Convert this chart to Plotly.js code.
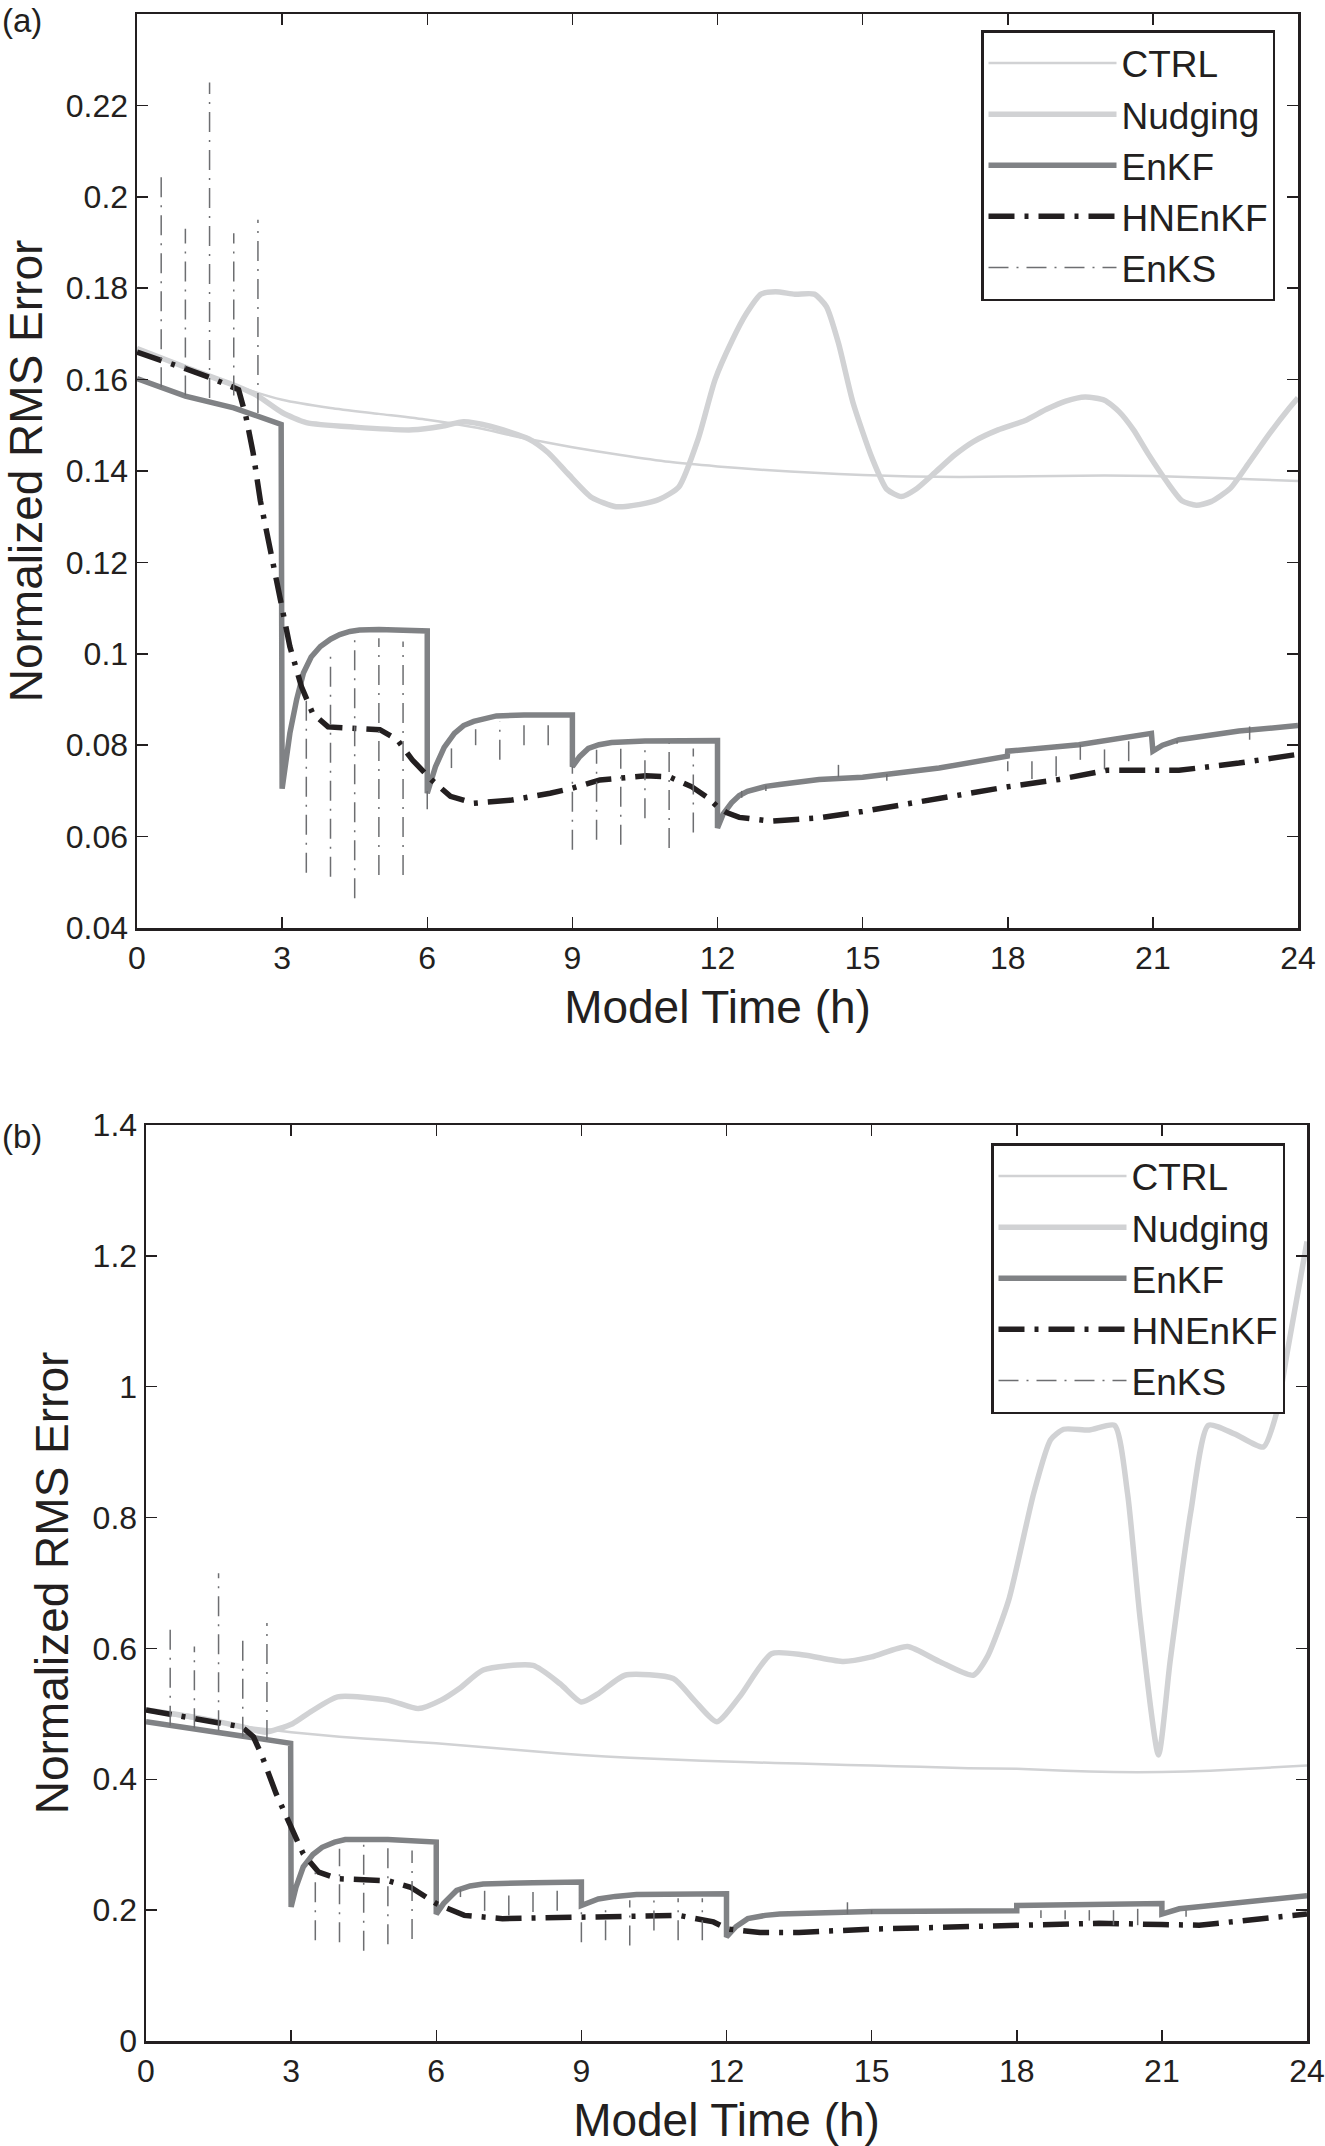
<!DOCTYPE html>
<html>
<head>
<meta charset="utf-8">
<script src="https://cdn.plot.ly/plotly-3.0.1.min.js"></script>
<style>
  html, body { margin: 0; padding: 0; background: #fff; }
  #chart { width: 1325px; height: 2146px; }
</style>
</head>
<body>
<div id="chart"></div>
<script>
// Normalized RMS error vs model time, panels (a) and (b)
const xTicks = [0, 3, 6, 9, 12, 15, 18, 21, 24];
const yTicksA = [0.04, 0.06, 0.08, 0.1, 0.12, 0.14, 0.16, 0.18, 0.2, 0.22];
const yLabelsA = ['0.04', '0.06', '0.08', '0.1', '0.12', '0.14', '0.16', '0.18', '0.2', '0.22'];
const yTicksB = [0, 0.2, 0.4, 0.6, 0.8, 1, 1.2, 1.4];
const yLabelsB = ['0', '0.2', '0.4', '0.6', '0.8', '1', '1.2', '1.4'];

// ---- panel (a) ----
const ctrlTimeA = [0, 1, 2, 3, 4, 5, 6, 7, 8, 9, 10, 11, 12, 13, 14, 15, 16, 17, 18, 19, 20, 21, 22, 23, 24];
const ctrlA = [0.1668, 0.1627, 0.1588, 0.1556, 0.1538, 0.1525, 0.1512, 0.1495, 0.1472, 0.1452, 0.1435, 0.1420, 0.1410,
    0.1402, 0.1396, 0.1391, 0.1388, 0.1387, 0.1388, 0.1389, 0.1390, 0.1389, 0.1386, 0.1382, 0.1378];

const nudgingTimeA = [0, 1, 2, 2.5, 3, 3.5, 4.5, 5.7, 6.3, 6.75, 7.3, 8.1, 8.5, 8.9, 9.4, 9.9, 10.4, 10.8, 11.2, 11.6,
    11.95, 12.3, 12.6, 12.9, 13.2, 13.6, 14, 14.25, 14.5, 14.8, 15.2, 15.5, 15.8, 16.1, 16.5, 16.9, 17.3, 17.8, 18.35,
    18.8, 19.2, 19.6, 20, 20.3, 20.6, 20.9, 21.3, 21.6, 21.9, 22.2, 22.6, 23, 23.4, 23.8, 24];
const nudgingA = [0.1668, 0.1627, 0.1588, 0.1564, 0.1528, 0.1506, 0.1496, 0.1490, 0.1498, 0.1508, 0.1498, 0.1470, 0.1440,
    0.1395, 0.1342, 0.1322, 0.1327, 0.1338, 0.1365, 0.1470, 0.1600, 0.1685, 0.1745, 0.1787, 0.1792, 0.1787, 0.1787,
    0.1760, 0.1680, 0.1550, 0.1427, 0.1360, 0.1344, 0.1360, 0.1397, 0.1435, 0.1465, 0.1490, 0.1510, 0.1535, 0.1553,
    0.1562, 0.1555, 0.1530, 0.1490, 0.1438, 0.1375, 0.1335, 0.1325, 0.1333, 0.1362, 0.1420, 0.1480, 0.1535, 0.1560];

const enkfTimeA = [0, 1, 2, 2.98, 3, 3.08, 3.16, 3.3, 3.44, 3.6, 3.79, 4, 4.19, 4.4, 4.6, 5, 6, 6, 6.17, 6.35, 6.56,
    6.75, 6.96, 7.43, 8, 9, 9, 9.15, 9.33, 9.55, 9.81, 10.5, 12, 12, 12.12, 12.29, 12.45, 12.62, 13, 13.28, 14.1, 15,
    16.58, 17.99, 18, 19.47, 20.97, 21, 21.2, 21.54, 22.78, 24];
const enkfA = [0.1602, 0.1564, 0.1538, 0.1502, 0.0705, 0.0770, 0.0826, 0.0900, 0.0958, 0.0993, 0.1016, 0.1032, 0.1042,
    0.1049, 0.1052, 0.1053, 0.1050, 0.0695, 0.0753, 0.0795, 0.0826, 0.0843, 0.0852, 0.0864, 0.0866, 0.0866, 0.0753,
    0.0775, 0.0793, 0.0801, 0.0806, 0.0809, 0.0810, 0.0619, 0.0650, 0.0674, 0.0690, 0.0699, 0.0710, 0.0714, 0.0725,
    0.0730, 0.0750, 0.0776, 0.0787, 0.0801, 0.0826, 0.0787, 0.0800, 0.0812, 0.0831, 0.0843];

const hnenkfTimeA = [0, 0.5, 1, 1.5, 2, 2.1, 2.25, 2.4, 2.55, 2.7, 2.92, 3.16, 3.4, 3.63, 3.95, 4.58, 5.02, 5.38, 5.69,
    6.09, 6.48, 6.96, 7.75, 8.54, 9, 9.57, 10.52, 11, 11.47, 11.8, 12, 12.2, 12.45, 13.1, 14.1, 15, 16.58, 18, 19.06,
    20.05, 21.54, 22.78, 24];
const hnenkfA = [0.1660, 0.1643, 0.1624, 0.1605, 0.1585, 0.1578, 0.1520, 0.1440, 0.1335, 0.1260, 0.1140, 0.1016,
    0.0928, 0.0870, 0.0840, 0.0837, 0.0834, 0.0812, 0.0768, 0.0724, 0.0688, 0.0673, 0.0680, 0.0695, 0.0706, 0.0724,
    0.0733, 0.0731, 0.0709, 0.0685, 0.0665, 0.0652, 0.0642, 0.0634, 0.0641, 0.0655, 0.0685, 0.0709, 0.0725, 0.0745,
    0.0745, 0.0761, 0.0780];

// EnKS: one short vertical stroke per smoother window
const enksTimeA = [0.5, 1, 1.5, 2, 2.5, 3.5, 4, 4.5, 5, 5.5, 6, 6.5, 7, 7.5, 8, 8.5, 9, 9.5, 10, 10.5, 11, 11.5,
    12.5, 13, 14.5, 15.5, 18, 18.5, 19, 19.5, 20, 20.5, 21.5, 23];
const enksLowA = [0.1583, 0.1565, 0.1560, 0.1565, 0.1527, 0.0521, 0.0512, 0.0465, 0.0516, 0.0516, 0.0660, 0.0750,
    0.0800, 0.0768, 0.0800, 0.0800, 0.0571, 0.0593, 0.0582, 0.0640, 0.0575, 0.0609, 0.0685, 0.0700, 0.0730, 0.0722,
    0.0743, 0.0726, 0.0732, 0.0768, 0.0747, 0.0765, 0.0803, 0.0812];
const enksHighA = [0.205, 0.193, 0.225, 0.192, 0.195, 0.0899, 0.1001, 0.1040, 0.1034, 0.1027, 0.0700, 0.0793,
    0.0835, 0.0852, 0.0860, 0.0860, 0.0753, 0.0790, 0.0797, 0.0800, 0.0804, 0.0793, 0.0700, 0.0712, 0.0757, 0.0737,
    0.0765, 0.0765, 0.0776, 0.0801, 0.0805, 0.0816, 0.0810, 0.0841];

// ---- panel (b) ----
const ctrlTimeB = [0, 1, 2, 3, 4, 5, 6, 7, 8, 9, 10, 11, 12, 13, 14, 15, 16, 17, 18, 19, 20, 21, 22, 23, 24];
const ctrlB = [0.505, 0.492, 0.481, 0.472, 0.465, 0.460, 0.455, 0.449, 0.443, 0.437, 0.433, 0.430, 0.427, 0.425,
    0.423, 0.421, 0.419, 0.417, 0.416, 0.413, 0.411, 0.411, 0.413, 0.417, 0.421];

const nudgingTimeB = [0, 1, 2, 2.46, 3.03, 3.4, 3.96, 5, 5.63, 6.1, 6.5, 6.97, 8, 8.56, 9, 9.35, 9.9, 10.9, 11.33, 11.8,
    12.27, 12.93, 13.6, 14.42, 15, 15.74, 16.4, 17.1, 17.39, 17.83, 18.35, 18.7, 18.97, 19.5, 20.02, 20.29, 20.55,
    20.93, 21.17, 21.6, 21.96, 22.5, 23.1, 23.36, 23.6, 24];
const nudgingB = [0.506, 0.495, 0.480, 0.472, 0.485, 0.503, 0.526, 0.521, 0.508, 0.521, 0.540, 0.567, 0.574, 0.546,
    0.518, 0.531, 0.559, 0.554, 0.521, 0.488, 0.526, 0.592, 0.590, 0.580, 0.587, 0.603, 0.580, 0.559, 0.587, 0.673,
    0.837, 0.919, 0.935, 0.934, 0.941, 0.837, 0.646, 0.437, 0.580, 0.810, 0.941, 0.928, 0.908, 0.957, 1.056, 1.222];

const enkfTimeB = [0, 1.43, 2.99, 3, 3.1, 3.25, 3.45, 3.64, 3.9, 4.12, 5, 6, 6, 6.15, 6.42, 6.7, 6.97, 8, 9, 9, 9.15,
    9.35, 9.7, 10.14, 12, 12, 12.2, 12.44, 12.8, 13.1, 15, 18, 18, 21, 21, 21.36, 24];
const enkfB = [0.488, 0.472, 0.455, 0.205, 0.235, 0.266, 0.285, 0.296, 0.304, 0.308, 0.308, 0.304, 0.194, 0.210,
    0.230, 0.237, 0.240, 0.242, 0.243, 0.207, 0.212, 0.217, 0.221, 0.224, 0.225, 0.159, 0.175, 0.187, 0.192, 0.194,
    0.198, 0.199, 0.207, 0.210, 0.194, 0.202, 0.222];

const hnenkfTimeB = [0, 1.43, 1.98, 2.22, 2.38, 2.69, 3.01, 3.25, 3.57, 3.96, 5, 5.47, 6, 6.58, 7.37, 9, 10.14, 11.01,
    11.73, 12.04, 12.69, 13.5, 15, 18, 19.7, 21, 21.77, 24];
const hnenkfB = [0.506, 0.488, 0.480, 0.465, 0.439, 0.378, 0.327, 0.286, 0.258, 0.248, 0.245, 0.235, 0.210, 0.192,
    0.187, 0.189, 0.192, 0.192, 0.182, 0.171, 0.166, 0.166, 0.171, 0.177, 0.180, 0.178, 0.177, 0.194];

const enksTimeB = [0.5, 1, 1.5, 2, 2.5, 3.5, 4, 4.5, 5, 5.5, 6.5, 7, 7.5, 8, 8.5, 9, 9.5, 10, 10.5, 11, 11.5, 14.5,
    15, 18.5, 19, 19.5, 20, 20.5, 21.5];
const enksLowB = [0.482, 0.478, 0.475, 0.465, 0.460, 0.154, 0.151, 0.138, 0.148, 0.156, 0.220, 0.199, 0.192, 0.197,
    0.199, 0.151, 0.154, 0.146, 0.169, 0.154, 0.154, 0.194, 0.194, 0.188, 0.186, 0.184, 0.177, 0.177, 0.190];
const enksHighB = [0.640, 0.603, 0.715, 0.621, 0.639, 0.266, 0.294, 0.302, 0.304, 0.291, 0.232, 0.237, 0.230, 0.235,
    0.235, 0.207, 0.212, 0.215, 0.218, 0.218, 0.218, 0.212, 0.200, 0.200, 0.200, 0.200, 0.200, 0.202, 0.200];

const FONT = '"Liberation Sans", Arial, Helvetica, sans-serif';
const INK = '#231f20';
const LIGHT = '#d1d2d4';
const MID = '#808285';

function strokes(times, lows, highs) {
    const x = [], y = [];
    times.forEach((t, i) => { x.push(t, t, null); y.push(lows[i], highs[i], null); });
    return { x, y };
}

function panelTraces(xa, ya, leg, d) {
    const ks = strokes(d.enksT, d.enksLo, d.enksHi);
    return [
        { x: d.ctrlT, y: d.ctrl, name: 'CTRL', xaxis: xa, yaxis: ya, legend: leg, type: 'scatter', mode: 'lines',
          line: { color: LIGHT, width: 2.5, shape: 'spline', smoothing: 0.6 } },
        { x: d.nudT, y: d.nud, name: 'Nudging', xaxis: xa, yaxis: ya, legend: leg, type: 'scatter', mode: 'lines',
          line: { color: LIGHT, width: 5.5, shape: 'spline', smoothing: 0.6 } },
        { x: d.enkfT, y: d.enkf, name: 'EnKF', xaxis: xa, yaxis: ya, legend: leg, type: 'scatter', mode: 'lines',
          line: { color: MID, width: 5.5 } },
        { x: d.hnT, y: d.hn, name: 'HNEnKF', xaxis: xa, yaxis: ya, legend: leg, type: 'scatter', mode: 'lines',
          line: { color: INK, width: 5.5, dash: '26px,10px,4px,10px' } },
        { x: ks.x, y: ks.y, name: 'EnKS', xaxis: xa, yaxis: ya, legend: leg, type: 'scatter', mode: 'lines',
          connectgaps: false, line: { color: '#6d6e71', width: 1.5, dash: '20px,8px,2px,8px' } },
    ];
}

const traces = [].concat(
    panelTraces('x', 'y', 'legend', { ctrlT: ctrlTimeA, ctrl: ctrlA, nudT: nudgingTimeA, nud: nudgingA,
        enkfT: enkfTimeA, enkf: enkfA, hnT: hnenkfTimeA, hn: hnenkfA, enksT: enksTimeA, enksLo: enksLowA, enksHi: enksHighA }),
    panelTraces('x2', 'y2', 'legend2', { ctrlT: ctrlTimeB, ctrl: ctrlB, nudT: nudgingTimeB, nud: nudgingB,
        enkfT: enkfTimeB, enkf: enkfB, hnT: hnenkfTimeB, hn: hnenkfB, enksT: enksTimeB, enksLo: enksLowB, enksHi: enksHighB })
);

const W = 1325, H = 2146;
function xAxis(domain) {
    return {
        domain: domain, range: [0, 24], tickmode: 'array', tickvals: xTicks,
        ticks: 'inside', ticklen: 11, tickwidth: 1.5, tickcolor: INK,
        showline: true, linewidth: 2.5, linecolor: INK, mirror: 'ticks',
        showgrid: false, zeroline: false,
        tickfont: { family: FONT, size: 32, color: INK },
        title: { text: 'Model Time (h)', font: { family: FONT, size: 46, color: INK }, standoff: 16 },
    };
}
function yAxis(domain, range, vals, labels, anchor) {
    return {
        domain: domain, range: range, anchor: anchor, tickmode: 'array', tickvals: vals, ticktext: labels,
        ticks: 'inside', ticklen: 11, tickwidth: 1.5, tickcolor: INK,
        showline: true, linewidth: 2.5, linecolor: INK, mirror: 'ticks',
        showgrid: false, zeroline: false,
        tickfont: { family: FONT, size: 32, color: INK },
        title: { text: 'Normalized RMS Error', font: { family: FONT, size: 46, color: INK }, standoff: 10 },
    };
}

const legendStyle = {
    bgcolor: '#ffffff', bordercolor: INK, borderwidth: 2.5, xanchor: 'left', yanchor: 'top',
    font: { family: FONT, size: 37, color: INK }, itemwidth: 128, tracegroupgap: 0,
    traceorder: 'normal',
};

const layout = {
    width: W, height: H,
    margin: { l: 0, r: 0, t: 0, b: 0 },
    paper_bgcolor: '#ffffff', plot_bgcolor: '#ffffff',
    showlegend: true,
    xaxis: Object.assign(xAxis([137 / W, 1298 / W]), { anchor: 'y' }),
    yaxis: yAxis([1 - 928 / H, 1 - 14 / H], [0.04, 0.24], yTicksA, yLabelsA, 'x'),
    xaxis2: Object.assign(xAxis([146 / W, 1307 / W]), { anchor: 'y2' }),
    yaxis2: yAxis([1 - 2041 / H, 1 - 1125 / H], [0, 1.4], yTicksB, yLabelsB, 'x2'),
    legend: Object.assign({}, legendStyle, { x: 981 / W, y: 1 - 30 / H }),
    legend2: Object.assign({}, legendStyle, { x: 991 / W, y: 1 - 1143 / H }),
    annotations: [
        { text: '(a)', xref: 'paper', yref: 'paper', x: 0, y: 1, xanchor: 'left', yanchor: 'top', showarrow: false,
          font: { family: FONT, size: 33, color: INK } },
        { text: '(b)', xref: 'paper', yref: 'paper', x: 0, y: 1 - 1116 / H, xanchor: 'left', yanchor: 'top', showarrow: false,
          font: { family: FONT, size: 33, color: INK } },
    ],
};

Plotly.newPlot('chart', traces, layout, { displayModeBar: false, staticPlot: true });
</script>
</body>
</html>
